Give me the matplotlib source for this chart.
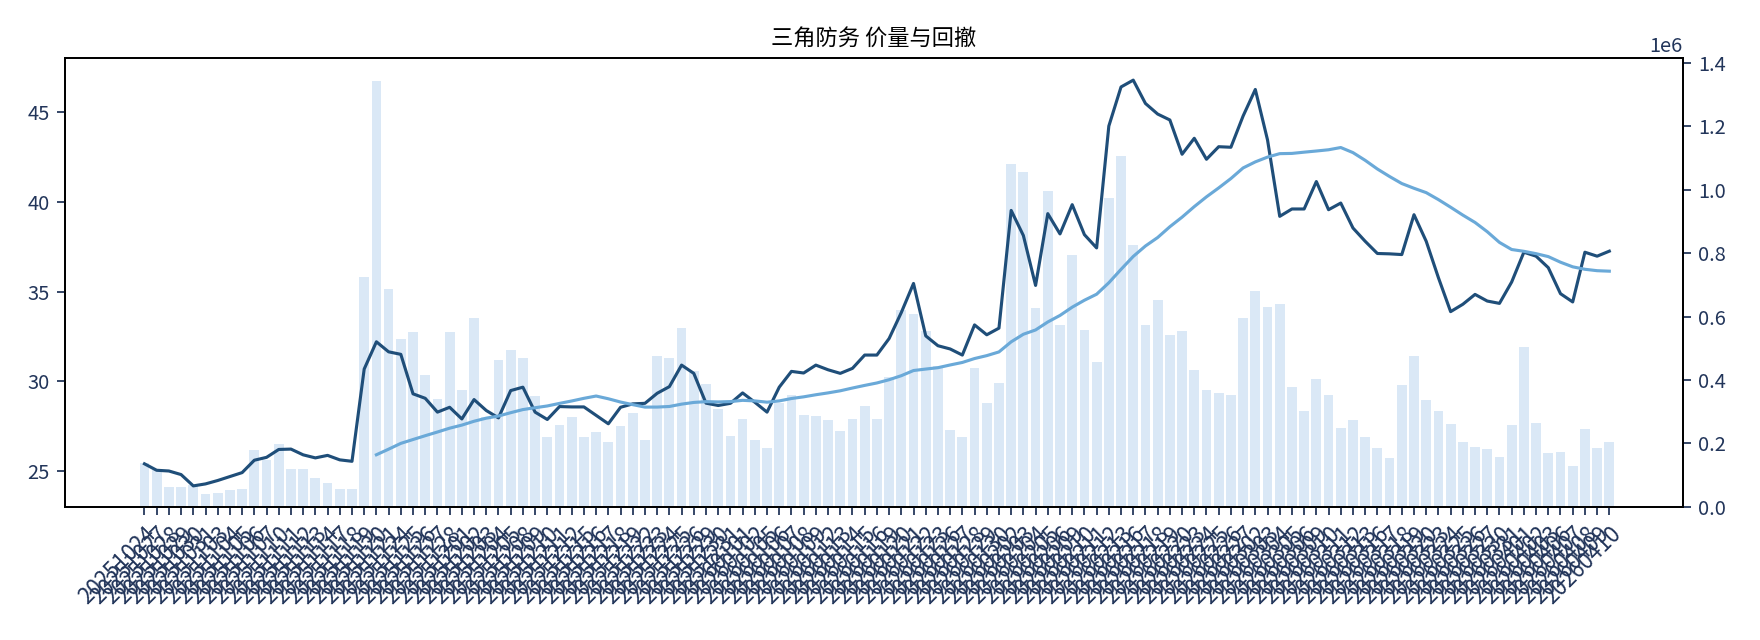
import numpy as np
import pandas as pd
import matplotlib
matplotlib.use('Agg')
import matplotlib.pyplot as plt

plt.rcParams['font.family'] = ['Noto Sans CJK SC', 'DejaVu Sans']
plt.rcParams['axes.unicode_minus'] = False

# ========== 数据 ==========
dates = pd.bdate_range(end='2026-04-10', periods=121).strftime('%Y%m%d').tolist()

close = [
    25.4, 25.04, 25.0, 24.8, 24.17, 24.28, 24.47, 24.69, 24.91, 25.6,
    25.76, 26.2, 26.22, 25.9, 25.73, 25.87, 25.62, 25.54, 30.68, 32.2,
    31.64, 31.5, 29.3, 29.05, 28.28, 28.55, 27.9, 28.98, 28.37, 27.96,
    29.48, 29.67, 28.28, 27.87, 28.59, 28.57, 28.57, 28.1, 27.63, 28.55,
    28.74, 28.77, 29.33, 29.7, 30.9, 30.44, 28.78, 28.65, 28.77, 29.35,
    28.83, 28.28, 29.67, 30.55, 30.46, 30.9, 30.64, 30.44, 30.72, 31.46,
    31.46, 32.38, 33.83, 35.45, 32.53, 31.98, 31.8, 31.46, 33.14, 32.59,
    32.96, 39.52, 38.12, 35.34, 39.34, 38.21, 39.84, 38.17, 37.43, 44.22,
    46.4, 46.78, 45.48, 44.89, 44.56, 42.65, 43.54, 42.37, 43.07, 43.04,
    44.78, 46.26, 43.45, 39.19, 39.6, 39.6, 41.13, 39.56, 39.93, 38.54,
    37.8, 37.12, 37.1, 37.06, 39.28, 37.8, 35.77, 33.88, 34.29, 34.84,
    34.47, 34.34, 35.53, 37.19, 36.97, 36.33, 34.88, 34.42, 37.19, 36.97,
    37.25,
]

# 成交量（单位：百万）
volume_m = [
    0.137, 0.116, 0.063, 0.063, 0.07, 0.040, 0.043, 0.053, 0.056, 0.179,
    0.147, 0.198, 0.119, 0.119, 0.090, 0.075, 0.056, 0.056, 0.725, 1.343,
    0.687, 0.529, 0.551, 0.415, 0.340, 0.551, 0.368, 0.595, 0.284, 0.463,
    0.494, 0.469, 0.349, 0.220, 0.258, 0.283, 0.220, 0.236, 0.204, 0.254,
    0.295, 0.210, 0.475, 0.469, 0.564, 0.428, 0.387, 0.308, 0.223, 0.277,
    0.210, 0.185, 0.326, 0.352, 0.289, 0.286, 0.273, 0.239, 0.277, 0.318,
    0.277, 0.409, 0.620, 0.608, 0.554, 0.444, 0.242, 0.220, 0.437, 0.327,
    0.390, 1.081, 1.056, 0.627, 0.996, 0.573, 0.794, 0.557, 0.456, 0.974,
    1.106, 0.825, 0.573, 0.652, 0.542, 0.554, 0.431, 0.368, 0.359, 0.352,
    0.595, 0.680, 0.630, 0.639, 0.377, 0.302, 0.403, 0.352, 0.248, 0.273,
    0.220, 0.185, 0.154, 0.384, 0.475, 0.336, 0.302, 0.261, 0.204, 0.188,
    0.182, 0.157, 0.258, 0.504, 0.264, 0.169, 0.172, 0.128, 0.245, 0.185,
    0.204,
]
volume = np.array(volume_m) * 1e6

ma20 = pd.Series(close).rolling(20).mean()

# ========== 绘图 ==========
text_c = '#22355a'
fig, ax = plt.subplots(figsize=(11, 4), dpi=160)
fig.subplots_adjust(left=0.037, right=0.956, top=0.909, bottom=0.208)
ax2 = ax.twinx()

x = np.arange(len(dates))
ax2.bar(x, volume, width=0.8, color='#d6e6f6', alpha=0.9)
ax2.set_facecolor('#f5f9ff')
ax.set_zorder(ax2.get_zorder() + 1)
ax.patch.set_visible(False)

ax.plot(x, close, color='#1f4e79', linewidth=1.4)
ax.plot(x, ma20, color='#6aa9d8', linewidth=1.4)

ax.set_xlim(-6.5, 126)
ax.set_ylim(23, 48)
ax2.set_ylim(0, 1.414e6)
ax.set_yticks([25, 30, 35, 40, 45])
ax.set_xticks(x)
ax.set_xticklabels(dates, rotation=45, ha='right', rotation_mode='anchor')
ax.set_title('三角防务 价量与回撤', fontsize=10, color='black')
for a in (ax, ax2):
    a.tick_params(colors=text_c, labelsize=9)
ax.tick_params(axis='x', labelsize=10)
ax2.yaxis.get_offset_text().set_fontsize(9)

fig.savefig('out.png')
